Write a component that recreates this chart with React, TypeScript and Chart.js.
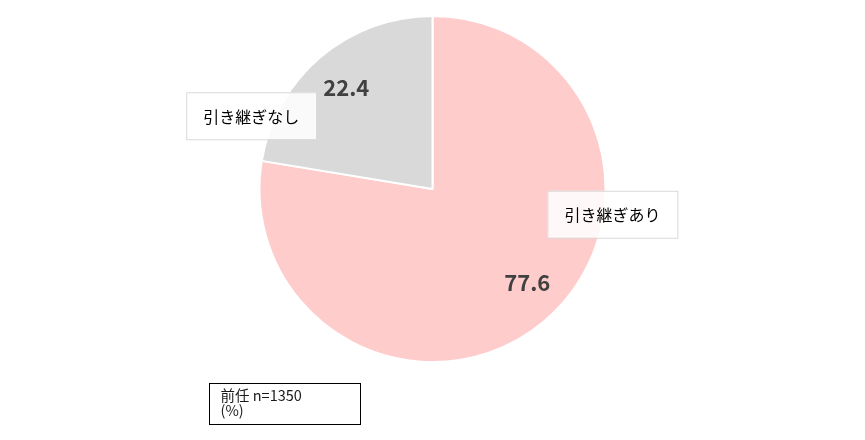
import React, { useRef, useEffect } from "react";
import { Chart, ChartConfiguration, registerables } from "chart.js";
Chart.register(...registerables);

const categories = ["引き継ぎあり", "引き継ぎなし"];
const values = [77.6, 22.4];
const sliceColors = ["#FFCCCC", "#D9D9D9"];
const noteLines = ["前任 n=1350", "(%)"];

// where the category boxes sit: angle from top (deg, clockwise) and distance as share of radius
const boxPlacement = [
  { angle: 98, dist: 1.05 },
  { angle: 292, dist: 1.13 },
];
// small nudges of the value labels off the slice middle (deg)
const valueShift = [-5, 0];

const FONT_JP = '"Noto Sans CJK JP", "Noto Sans", sans-serif';

const labelPlugin = {
  id: "pieLabels",
  afterDatasetsDraw(chart: Chart) {
    const ctx = chart.ctx;
    const meta = chart.getDatasetMeta(0);
    ctx.save();
    meta.data.forEach((arc: any, i: number) => {
      const { x, y, startAngle, endAngle, outerRadius } = arc.getProps(
        ["x", "y", "startAngle", "endAngle", "outerRadius"],
        true
      );
      const mid = (startAngle + endAngle) / 2 + (valueShift[i] * Math.PI) / 180;
      const r = outerRadius * 0.77;
      ctx.font = `bold 22px ${FONT_JP}`;
      ctx.fillStyle = "#404040";
      ctx.textAlign = "center";
      ctx.textBaseline = "middle";
      ctx.fillText(values[i].toFixed(1), x + Math.cos(mid) * r, y + Math.sin(mid) * r);

      // category box
      const p = boxPlacement[i];
      const a = ((p.angle - 90) * Math.PI) / 180;
      const cx = x + Math.cos(a) * outerRadius * p.dist;
      const cy = y + Math.sin(a) * outerRadius * p.dist;
      ctx.font = `16px ${FONT_JP}`;
      const w = ctx.measureText(categories[i]).width + 34;
      const h = 47;
      ctx.fillStyle = "rgba(255,255,255,0.85)";
      ctx.fillRect(cx - w / 2, cy - h / 2, w, h);
      ctx.strokeStyle = "#D9D9D9";
      ctx.lineWidth = 1;
      ctx.strokeRect(cx - w / 2 + 0.5, cy - h / 2 + 0.5, w, h);
      ctx.fillStyle = "#000000";
      ctx.fillText(categories[i], cx, cy + 1);
    });

    // note box bottom-left
    const bx = 209.5;
    const by = 383.5;
    ctx.strokeStyle = "#000000";
    ctx.lineWidth = 1;
    ctx.fillStyle = "#ffffff";
    ctx.fillRect(bx, by, 151, 41);
    ctx.strokeRect(bx, by, 151, 41);
    ctx.font = `14.5px ${FONT_JP}`;
    ctx.fillStyle = "#1a1a1a";
    ctx.textAlign = "left";
    ctx.textBaseline = "middle";
    noteLines.forEach((t, k) => ctx.fillText(t, bx + 11, by + 12 + k * 15));
    ctx.restore();
  },
};

export default function App() {
  const canvasRef = useRef<HTMLCanvasElement>(null);
  const chartRef = useRef<Chart | null>(null);

  useEffect(() => {
    document.body.style.margin = "0";
    if (!canvasRef.current) return;
    if (chartRef.current) chartRef.current.destroy();
    const ctx = canvasRef.current.getContext("2d");
    if (!ctx) return;

    const config: ChartConfiguration<"pie"> = {
      type: "pie",
      data: {
        labels: categories,
        datasets: [
          {
            data: values,
            backgroundColor: sliceColors,
            borderColor: "#ffffff",
            borderWidth: 2,
          },
        ],
      },
      options: {
        animation: false,
        responsive: true,
        maintainAspectRatio: false,
        layout: { padding: { top: 15, bottom: 77, left: 0, right: 0 } },
        plugins: {
          legend: { display: false },
          tooltip: { enabled: false },
        },
      },
      plugins: [labelPlugin],
    };

    chartRef.current = new Chart(ctx, config);
    return () => {
      if (chartRef.current) {
        chartRef.current.destroy();
        chartRef.current = null;
      }
    };
  }, []);

  return (
    <div style={{ width: 865, height: 440, position: "relative", background: "#fff" }}>
      <canvas ref={canvasRef} />
    </div>
  );
}
